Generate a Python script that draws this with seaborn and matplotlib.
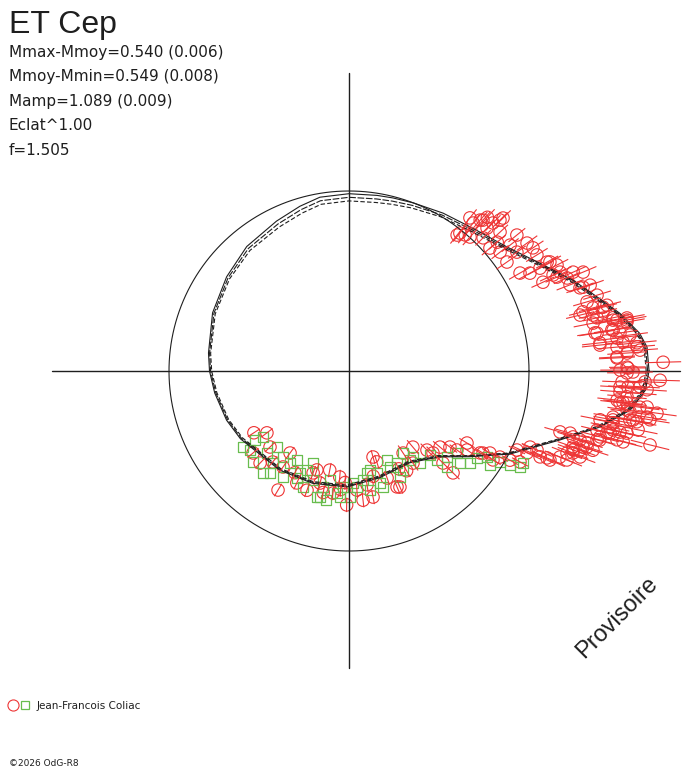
import numpy as np
import pandas as pd
import matplotlib
matplotlib.use("Agg")
import matplotlib.pyplot as plt
from matplotlib.collections import LineCollection
from matplotlib.lines import Line2D
import seaborn as sns

# 1. Data (phase angle in degrees, radius in units of the reference circle)
star = "ET Cep"
stats = ["Mmax-Mmoy=0.540 (0.006)", "Mmoy-Mmin=0.549 (0.008)",
         "Mamp=1.089 (0.009)", "Eclat^1.00", "f=1.505"]
observer = "Jean-Francois Coliac"

fit_deg = [0, 4.6, 7.4, 12, 16.6, 22, 29.5, 38, 49, 59.2, 69.1, 75.7, 80.9, 90, 99.5,
           106.6, 115.8, 129.4, 142.4, 156.9, 172.7, 180, 189.3, 201.9, 212, 235, 252,
           269, 286, 303.5, 316.6, 324.6, 332.7, 341.9, 347.4, 352.1, 356.3, 360]
fit_r = [1.667, 1.661, 1.628, 1.539, 1.439, 1.344, 1.217, 1.117, 1.050, 1.021, 1.000,
         0.992, 0.988, 0.985, 0.979, 0.955, 0.925, 0.895, 0.858, 0.824, 0.787, 0.775,
         0.756, 0.733, 0.711, 0.672, 0.656, 0.644, 0.617, 0.611, 0.694, 0.822, 1.006,
         1.233, 1.428, 1.578, 1.650, 1.667]
fit_spread = [0.008, 0.008, 0.008, 0.008, 0.008, 0.008, 0.008, 0.008, 0.010, 0.012,
              0.015, 0.018, 0.020, 0.020, 0.020, 0.020, 0.018, 0.014, 0.010, 0.008,
              0.006, 0.006, 0.006, 0.006, 0.006, 0.005, 0.005, 0.005, 0.005, 0.005,
              0.005, 0.005, 0.006, 0.007, 0.008, 0.008, 0.008, 0.008]

red_deg = [51.2, 47.9, 49, 46, 45.8, 42.6, 44.8, 41, 38.2, 38, 48, 50, 48.4, 45, 39, 49.5,
           35.7, 34.6, 29.8, 33.8, 31.7, 28.4, 24.6, 28.8, 27, 25.1, 28.5, 24.3,
           23.8, 21.3, 22.9, 19.6, 16.2, 17, 14.5, 14.3, 12.1, 19.7, 14.1, 12.9, 13.6,
           11.4, 8.7, 5.9, 8.8, 6, 10, 8.8, 8.9, 7.3, 4.1, 2.8, 0.6, 1.6, 10.8, 6.4,
           10.9, 10.8, 8, 4.8, 3, 0.8,
           359.8, 359.6, 357.9, 358.3, 357.7, 356.7, 355.6, 356.4, 353.5, 352.9, 351.7,
           352.2, 349.5, 350, 351.2, 347.3, 348.5, 345.5, 346.2, 346.6, 356.9, 354.7,
           352, 350.1, 350.2, 347.4, 347.4, 346.5, 348.9, 353.3, 349, 353.4, 345.6,
           344.3, 344.5, 342, 339.6, 339.4, 343.2, 344.6, 339.9, 337.8, 336.3, 337.2,
           335.3, 343.9, 342.3, 341.3, 346.6, 335.8, 336.1, 337.8, 341.1, 343.6,
           332, 331, 330.3, 329.8, 328, 326.2, 315.6, 323, 320.1, 314.6, 310, 304.8,
           315.7, 315.6, 323.8, 328.6, 328.5, 328.3, 334.8, 337.2, 303.4,
           239.2, 269, 259, 217, 220.5, 285.6, 287, 276.2, 280.8, 292.5, 245, 252,
           234.3, 250.6, 262.5, 273.8, 255.5, 223.9, 226, 235.5, 293.7, 289.6, 265,
           250.6, 242, 258, 266, 279, 283, 297, 300, 230, 213, 268,
           44.8, 41.1, 35.3, 51.7, 51.5,
           28.3, 25.2, 23.1, 19.8, 13.1, 14.2,
           7, 11.1, 10.4, 5.6, 5.1, 3.7, 0.2, 356.6, 355.6, 353.8, 353.1, 350.1, 347.9,
           345.3, 350.8,
           343.4, 342, 340.6]
red_r = [0.983, 1.003, 1.111, 1.104, 1.147, 1.14, 1.206, 1.091, 1.068, 1.136, 1.149,
         1.073, 1.121, 1.186, 1.2, 0.994,
         1.218, 1.066, 1.095, 1.230, 1.227, 1.143, 1.185, 1.256, 1.297, 1.295, 1.270,
         1.268,
         1.361, 1.318, 1.412, 1.422, 1.377, 1.441, 1.400, 1.479, 1.409, 1.381, 1.455,
         1.390, 1.321,
         1.496, 1.394, 1.401, 1.485, 1.531, 1.568, 1.383, 1.478, 1.574, 1.621, 1.490,
         1.55, 1.746, 1.516, 1.403, 1.494, 1.572, 1.520, 1.606, 1.491, 1.545,
         1.578, 1.544, 1.646, 1.729, 1.518, 1.552, 1.510, 1.659, 1.532, 1.628, 1.578,
         1.727, 1.491, 1.624, 1.675, 1.543, 1.639, 1.573, 1.722, 1.491, 1.619, 1.551,
         1.560, 1.489, 1.601, 1.503, 1.582, 1.474, 1.495, 1.516, 1.421, 1.555, 1.537,
         1.276, 1.430, 1.367, 1.370, 1.294, 1.382, 1.445, 1.325, 1.265, 1.201, 1.133,
         1.089, 1.220, 1.388, 1.314, 1.416, 1.164, 1.221, 1.308, 1.356, 1.297,
         1.076, 1.022, 0.965, 0.906, 0.859, 0.789, 0.809, 0.702, 0.659, 0.617, 0.552,
         0.623, 0.652, 0.731, 0.743, 0.768, 0.873, 0.940, 1.031, 1.091, 0.546,
         0.770, 0.744, 0.561, 0.571, 0.701, 0.496, 0.528, 0.722, 0.713, 0.697, 0.686,
         0.578, 0.561, 0.702, 0.684, 0.663, 0.643, 0.609, 0.711, 0.647, 0.704, 0.631,
         0.591, 0.600, 0.64, 0.69, 0.66, 0.64, 0.60, 0.61, 0.64, 0.66, 0.63, 0.62,
         1.05, 1.039, 1.143, 1.084, 0.965,
         1.205, 1.253, 1.317, 1.364, 1.449, 1.341,
         1.5, 1.382, 1.57, 1.607, 1.495, 1.548, 1.506, 1.508, 1.604, 1.498, 1.668,
         1.584, 1.483, 1.442, 1.694,
         1.339, 1.425, 1.32]
red_err = ([0.06] * 16 + [0.07] * 12 + [0.08] * 13 + [0.10] * 21 + [0.11] * 33
           + [0.09] * 21 + [0.05] * 21 + [0.04] * 34
           + [0.06] * 5 + [0.08] * 6 + [0.11] * 15 + [0.09] * 3)

green_deg = [303.4, 306.7, 307.7, 314, 314.7, 318.7, 315.6, 322.8, 320.3, 322.8, 325.8,
             328, 326.3, 329, 329.7, 330.7, 332.1, 215.6, 216.3, 217.5, 223.5, 225,
             226.5, 229.9, 232.5, 237.3, 238.1, 239.7, 244, 247, 255.7, 251.7, 257.4,
             260, 264.4, 267, 272, 277.3, 280, 285.3, 286.3, 293, 297.5, 295.7, 293,
             248.6, 230.4, 248.4, 259.7, 270.5, 282,
             274, 265.9, 257, 244.3, 232.2, 218.6, 298.6, 304.4, 285.5, 280]
green_r = [0.546, 0.596, 0.646, 0.648, 0.695, 0.724, 0.762, 0.753, 0.801, 0.845, 0.860,
           0.903, 0.942, 0.979, 1.036, 1.090, 1.094, 0.724, 0.648, 0.602, 0.735, 0.644,
           0.583, 0.741, 0.602, 0.607, 0.694, 0.573, 0.661, 0.598, 0.722, 0.638, 0.660,
           0.615, 0.681, 0.645, 0.623, 0.611, 0.671, 0.588, 0.671, 0.580, 0.576, 0.654,
           0.538, 0.549, 0.663, 0.693, 0.727, 0.700, 0.562,
           0.646, 0.702, 0.718, 0.628, 0.717, 0.704, 0.627, 0.599, 0.646, 0.575]

RED = "#ee3535"
GREEN = "#68bd4e"
INK = "#1e1e1e"


def to_xy(deg, r):
    th = np.deg2rad(np.asarray(deg, dtype=float))
    r = np.asarray(r, dtype=float)
    return r * np.cos(th), r * np.sin(th)


# 2. Figure
sns.set_style("white")
fig = plt.figure(figsize=(6.88, 7.68), dpi=100)
ax = fig.add_axes([0, 0, 1, 1])
ax.set_xlim(-349 / 180, 339 / 180)
ax.set_ylim(-397 / 180, 371 / 180)
ax.set_aspect("equal")
ax.axis("off")

# cross and reference circle
ax.plot([-1.65, 1.84], [0, 0], color=INK, lw=1.0)
ax.plot([0, 0], [-1.65, 1.655], color=INK, lw=1.0)
ang = np.linspace(0, 2 * np.pi, 400)
ax.plot(np.cos(ang), np.sin(ang), color=INK, lw=0.8)

# fit curves
for k, ls in [(0, "-"), (1, (0, (6, 1.5))), (2, (0, (4, 2)))]:
    fx, fy = to_xy(fit_deg, np.array(fit_r) - k * np.array(fit_spread))
    sns.lineplot(x=fx, y=fy, sort=False, estimator=None, color=INK, lw=0.8,
                 linestyle=ls, ax=ax)

# red observations with radial error bars
rx, ry = to_xy(red_deg, red_r)
lo_x, lo_y = to_xy(red_deg, np.array(red_r) - np.array(red_err))
hi_x, hi_y = to_xy(red_deg, np.array(red_r) + np.array(red_err))
segs = [[(a, b), (c, d)] for a, b, c, d in zip(lo_x, lo_y, hi_x, hi_y)]
ax.add_collection(LineCollection(segs, colors=RED, linewidths=0.8))
df_red = pd.DataFrame({"x": rx, "y": ry})
sns.scatterplot(data=df_red, x="x", y="y", marker="o", s=80, facecolor="none",
                edgecolor=RED, linewidth=0.8, ax=ax)

gx, gy = to_xy(green_deg, green_r)
df_green = pd.DataFrame({"x": gx, "y": gy})
sns.scatterplot(data=df_green, x="x", y="y", marker="s", s=50, facecolor="none",
                edgecolor=GREEN, linewidth=0.9, ax=ax)

# 3. Texts
W, H = 688, 768
fig.text(9 / W, 1 - 33 / H, star, fontsize=23, family="Liberation Sans", color=INK)
for i, line in enumerate(stats):
    fig.text(9 / W, 1 - (57 + 24.5 * i) / H, line, fontsize=11, family="DejaVu Sans",
             color=INK)

fig.text(617 / W, 1 - 618 / H, "Provisoire", fontsize=17, rotation=45,
         ha="center", va="center", family="Liberation Sans", color=INK)

fig.add_artist(Line2D([13 / W], [1 - 705 / H], marker="o", markersize=8,
                      mfc="none", mec=RED, mew=0.8, transform=fig.transFigure))
fig.add_artist(Line2D([25 / W], [1 - 705 / H], marker="s", markersize=6,
                      mfc="none", mec=GREEN, mew=0.9, transform=fig.transFigure))
fig.text(37 / W, 1 - 709 / H, observer, fontsize=7.5, family="DejaVu Sans", color=INK)
fig.text(9 / W, 1 - 766 / H, "\u00a92026 OdG-R8", fontsize=6.5, family="DejaVu Sans",
         color=INK)

fig.savefig("out.png", dpi=100)
